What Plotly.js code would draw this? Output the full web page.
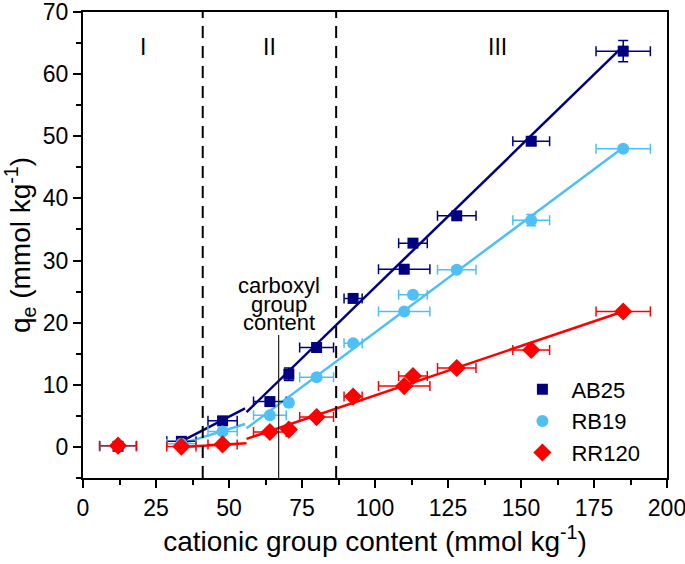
<!DOCTYPE html>
<html>
<head>
<meta charset="utf-8">
<script src="https://cdn.plot.ly/plotly-3.0.1.min.js"></script>
<style>html,body{margin:0;padding:0;background:#fff;}#chart{width:685px;height:564px;}</style>
</head>
<body>
<div id="chart"></div>
<script>
// cationic group content (mmol/kg)
const xVals = [12, 33.7, 47.8, 64, 70.5, 80, 92.5, 110, 113, 128, 153.5, 185];
const xErr  = [6.3, 5, 5, 5.6, 1.2, 5.8, 3.1, 8.8, 4.9, 6.6, 6.3, 9.3];

const ab25 = [0.1, 0.9, 4.2, 7.3, 11.7, 16.0, 23.9, 28.6, 32.8, 37.2, 49.2, 63.7];
const ab25Err = [0.3, 0.3, 0.5, 0.5, 1.0, 0.5, 0.5, 0.5, 0.6, 0.6, 0.6, 1.7];
const rb19 = [0.1, 0.5, 2.5, 5.1, 7.1, 11.2, 16.7, 21.8, 24.5, 28.5, 36.5, 48.0];
const rb19Err = [0.3, 0.3, 0.3, 0.3, 0.3, 0.3, 0.4, 0.4, 0.4, 0.4, 0.9, 0.4];
const rr120 = [0.2, 0.05, 0.4, 2.4, 2.8, 4.8, 8.1, 9.8, 11.4, 12.7, 15.6, 21.8];
const rr120Err = [0.3, 0.3, 0.3, 0.3, 0.3, 0.3, 0.3, 0.3, 0.3, 0.3, 0.3, 0.3];

// piecewise linear fits (segment endpoints, null separates segments)
const fitX_ab25 = [33.7, 55.5, null, 56, 185];
const fitY_ab25 = [0.9, 6.2, null, 5.6, 64.5];
const fitX_rb19 = [33.7, 55.5, null, 56, 185];
const fitY_rb19 = [0.5, 3.7, null, 3.0, 48.2];
const fitX_rr120 = [33.7, 56, null, 56, 185];
const fitY_rr120 = [0.0, 0.6, null, 1.3, 21.8];

const regionBounds = [41, 86.7];
const carboxylX = 67;
const carboxylTop = 18;
const carboxylLines = ['carboxyl', 'group', 'content'];
const carboxylLineY = [26.0, 23.0, 20.0];
const regionLabels = ['I', 'II', 'III'];
const regionLabelX = [20.5, 64, 142];
const regionLabelY = 64.4;

const NAVY = '#000080', LBLUE = '#4FC0F5', RED = '#FF0000';

function fit(x, y, c) {
  return {x: x, y: y, mode: 'lines', line: {color: c, width: 2.5}, showlegend: false, hoverinfo: 'skip', connectgaps: false};
}
function pts(name, y, ey, c, sym, size) {
  return {
    x: xVals, y: y, name: name, mode: 'markers',
    marker: {color: c, symbol: sym, size: size},
    error_x: {type: 'data', array: xErr, visible: true, color: c, thickness: 1.5, width: 5},
    error_y: {type: 'data', array: ey, visible: true, color: c, thickness: 1.5, width: 5}
  };
}

const data = [
  fit(fitX_ab25, fitY_ab25, NAVY),
  fit(fitX_rb19, fitY_rb19, LBLUE),
  fit(fitX_rr120, fitY_rr120, RED),
  pts('AB25', ab25, ab25Err, NAVY, 'square', 11),
  pts('RB19', rb19, rb19Err, LBLUE, 'circle', 12),
  pts('RR120', rr120, rr120Err, RED, 'diamond', 14)
];

const shapes = regionBounds.map(b => ({
  type: 'line', xref: 'x', yref: 'paper', x0: b, x1: b, y0: 0, y1: 1,
  line: {color: '#000', width: 2, dash: '12px,8px'}
}));
shapes.push({type: 'line', xref: 'x', yref: 'y', x0: carboxylX, x1: carboxylX, y0: -5, y1: carboxylTop,
  line: {color: '#222', width: 1.2}});

const annotations = regionLabels.map((t, i) => ({
  text: t, x: regionLabelX[i], y: regionLabelY, xref: 'x', yref: 'y', showarrow: false,
  font: {size: 23, color: '#000'}
}));
carboxylLines.forEach((t, i) => annotations.push({
  text: t, x: carboxylX, y: carboxylLineY[i], xref: 'x', yref: 'y',
  yanchor: 'middle', showarrow: false, font: {size: 22, color: '#000'}
}));

const axisCommon = {
  showline: true, linecolor: '#000', linewidth: 2, mirror: true,
  ticks: 'outside', ticklen: 8, tickwidth: 2, tickcolor: '#000',
  showgrid: false, zeroline: false, tickfont: {size: 23, color: '#000'},
  ticklabeloverflow: 'allow'
};

const layout = {
  width: 685, height: 564,
  margin: {l: 83, r: 18, t: 12, b: 86},
  paper_bgcolor: '#fff', plot_bgcolor: '#fff',
  font: {family: '"Liberation Sans", Arial, sans-serif', color: '#000'},
  xaxis: Object.assign({}, axisCommon, {
    range: [0, 200], tick0: 0, dtick: 25,
    minor: {ticks: 'outside', ticklen: 5, tickwidth: 2, tickcolor: '#000', dtick: 12.5},
    title: {text: 'cationic group content (mmol kg<sup>-1</sup>)', font: {size: 28, color: '#000'}, standoff: 12}
  }),
  yaxis: Object.assign({}, axisCommon, {
    range: [-5, 70], tick0: 0, dtick: 10,
    minor: {ticks: 'outside', ticklen: 5, tickwidth: 2, tickcolor: '#000', dtick: 5},
    title: {text: 'q<sub>e</sub> (mmol kg<sup>-1</sup>)', font: {size: 28, color: '#000'}, standoff: 8}
  }),
  legend: {x: 0.737, y: 0.235, xanchor: 'left', yanchor: 'top', font: {size: 22, color: '#000'},
    bgcolor: 'rgba(0,0,0,0)', itemwidth: 48},
  shapes: shapes,
  annotations: annotations,
  showlegend: true
};

Plotly.newPlot('chart', data, layout, {displayModeBar: false, staticPlot: true});
</script>
</body>
</html>
